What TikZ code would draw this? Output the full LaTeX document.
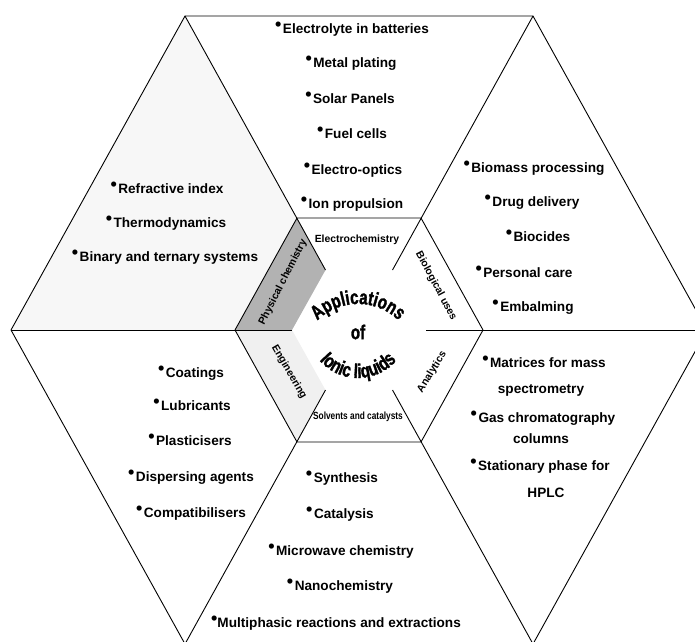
\documentclass[tikz,border=0pt]{standalone}
\usepackage{fontspec}
\setmainfont{Liberation Sans}
\newfontfamily\condfont{Liberation Sans}[FakeStretch=0.75, BoldFeatures={FakeBold=1.5}]
\usetikzlibrary{decorations.text}
\tikzset{
  edge/.style={draw=black, line width=0.9pt, line join=round},
  item/.style={anchor=base, inner sep=0pt, font=\fontsize{13.6}{16}\selectfont\bfseries},
  ring/.style={anchor=center, inner sep=0pt, font=\fontsize{10.4}{12}\selectfont\bfseries},
  hub/.style={anchor=center, inner sep=0pt, font=\condfont\bfseries\fontsize{20}{21}\selectfont},
}
\newcommand\bulmark{\raisebox{2.6pt}{\fontsize{18}{18}\selectfont\textbullet}}
\newcommand\bul{\bulmark\hspace{1.5pt}}
\begin{document}
\begin{tikzpicture}[x=1pt,y=-1pt]
\useasboundingbox (0,0) rectangle (695,641);
\clip (0,0) rectangle (695,641);
% outer vertices
\coordinate (oTL) at (185,16);
\coordinate (oTR) at (533,16);
\coordinate (oR) at (707,330);
\coordinate (oBR) at (533,644);
\coordinate (oBL) at (185,644);
\coordinate (oL) at (11,330);
% inner hexagon
\coordinate (iTL) at (297,218);
\coordinate (iTR) at (421,218);
\coordinate (iR) at (483,330);
\coordinate (iBR) at (421,442);
\coordinate (iBL) at (297,442);
\coordinate (iL) at (235,330);
% spoke ends
\coordinate (sTL) at (325.5,270);
\coordinate (sTR) at (392.5,270);
\coordinate (sR) at (426,330);
\coordinate (sBR) at (392.5,390);
\coordinate (sBL) at (325.5,390);
\coordinate (sL) at (292,330);
% shading
\fill[black!3] (oTL) -- (iTL) -- (iL) -- (oL) -- cycle;
\fill[black!30] (iTL) -- (sTL) -- (sL) -- (iL) -- cycle;
\fill[black!6] (iL) -- (sL) -- (sBL) -- (iBL) -- cycle;
% lines
\draw[edge] (oTL) -- (oTR) -- (oR) -- (oBR) -- (oBL) -- (oL) -- cycle;
\draw[edge] (iTL) -- (iTR) -- (iR) -- (iBR) -- (iBL) -- (iL) -- cycle;
\draw[edge] (oTL) -- (sTL);
\draw[edge] (oTR) -- (sTR);
\draw[edge] (oR) -- (sR);
\draw[edge] (oBR) -- (sBR);
\draw[edge] (oBL) -- (sBL);
\draw[edge] (oL) -- (sL);
% top: electrochemistry
\node[item] (t1) at (352,33) {\bul Electrolyte in batteries};
\node[item] (t2) at (351,67) {\bul Metal plating};
\node[item] (t3) at (350,103) {\bul Solar Panels};
\node[item] (t4) at (352,138) {\bul Fuel cells};
\node[item] (t5) at (353,174) {\bul Electro-optics};
\node[item] (t6) at (352,208) {\bul Ion propulsion};
% top-right: biological
\node[item] (b1) at (534,172) {\bul Biomass processing};
\node[item] (b2) at (532,206) {\bul Drug delivery};
\node[item] (b3) at (538,241) {\bul Biocides};
\node[item] (b4) at (524,277) {\bul Personal care};
\node[item] (b5) at (533,311) {\bul Embalming};
% top-left: physical chemistry
\node[item] (p1) at (167,193) {\bul Refractive index};
\node[item] (p2) at (166,227) {\bul Thermodynamics};
\node[item] (p3) at (165,261) {\bul Binary and ternary systems};
% bottom-left: engineering
\node[item] (g1) at (191,377) {\bul Coatings};
\node[item] (g2) at (192,410) {\bul Lubricants};
\node[item] (g3) at (190,445) {\bul Plasticisers};
\node[item] (g4) at (191,481) {\bul Dispersing agents};
\node[item] (g5) at (191,517) {\bul Compatibilisers};
% bottom: solvents
\node[item] (s1) at (342,482) {\bul Synthesis};
\node[item] (s2) at (340,518) {\bul Catalysis};
\node[item] (s3) at (341,555) {\bul Microwave chemistry};
\node[item] (s4) at (340,590) {\bul Nanochemistry};
\node[item] (s5) at (336,627) {\bulmark Multiphasic reactions and extractions};
% bottom-right: analytics
\node[item] (a1) at (544,367) {\bul Matrices for mass};
\node[item] (a1b) at (541,393) {spectrometry};
\node[item] (a2) at (543,422) {\bul Gas chromatography};
\node[item] (a2b) at (541,443) {columns};
\node[item] (a3) at (540,470) {\bul Stationary phase for};
\node[item] (a3b) at (546,497) {HPLC};
% ring labels
\node[ring] (rE) at (357,240) {Electrochemistry};
\node[ring, rotate=-62] (rB) at (436,286) {Biological uses};
\node[ring, rotate=58] (rA) at (432,372) {Analytics};
\node[ring] (rS) at (358,417) {\scalebox{0.8}[1]{Solvents and catalysts}};
\node[ring, rotate=-60] (rG) at (289,372) {Engineering};
\node[ring, rotate=63] (rP) at (283,282) {Physical chemistry};
% hub
\node[hub] (hof) at (358,332) {of};
\begin{scope}[shift={(358,362)}]
\path[decorate, decoration={text along path, text align=center,
  text={|\condfont\bfseries\fontsize{20}{21}\selectfont|Applications}}]
  (160:58pt) arc[start angle=160, end angle=20, radius=58pt];
\end{scope}
\begin{scope}[shift={(358,327)}]
\path[decorate, decoration={text along path, text align=center,
  text={|\condfont\bfseries\fontsize{20}{21}\selectfont|Ionic liquids}}]
  (200:51pt) arc[start angle=200, end angle=340, radius=51pt];
\end{scope}
\end{tikzpicture}
\end{document}
